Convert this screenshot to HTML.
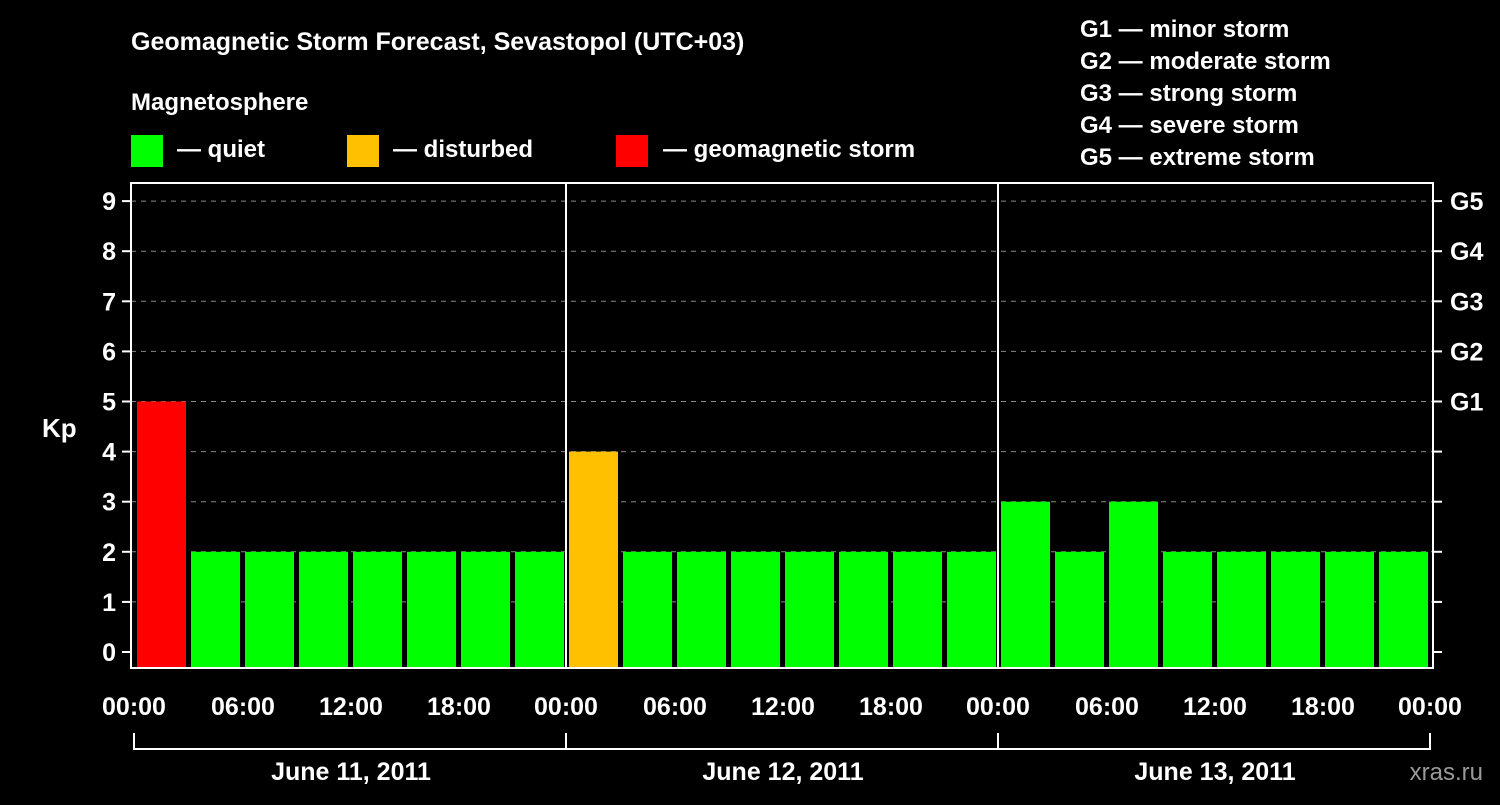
<!DOCTYPE html>
<html><head><meta charset="utf-8"><style>
body{margin:0;background:#000;width:1500px;height:800px;overflow:hidden}
svg text{font-family:"Liberation Sans",sans-serif;font-weight:bold;fill:#fff}
</style></head><body>
<svg id="c" width="1500" height="800">
<text x="131" y="50" font-size="25">Geomagnetic Storm Forecast, Sevastopol (UTC+03)</text>
<text x="131" y="110" font-size="24">Magnetosphere</text>
<rect x="131" y="135" width="32" height="32" fill="#00ff00"/>
<text x="177" y="157" font-size="24">— quiet</text>
<rect x="347" y="135" width="32" height="32" fill="#ffc000"/>
<text x="393" y="157" font-size="24">— disturbed</text>
<rect x="616" y="135" width="32" height="32" fill="#ff0000"/>
<text x="663" y="157" font-size="24">— geomagnetic storm</text>
<g font-size="24">
<text x="1080" y="37">G1 — minor storm</text>
<text x="1080" y="69">G2 — moderate storm</text>
<text x="1080" y="101">G3 — strong storm</text>
<text x="1080" y="133">G4 — severe storm</text>
<text x="1080" y="165">G5 — extreme storm</text>
</g>
<text x="42" y="437" font-size="26">Kp</text>
<text x="1483" y="780" font-size="24" text-anchor="end" fill="#888" style="fill:#9a9a9a;font-weight:normal">xras.ru</text>
<g id="grid"></g><g id="bars"></g><g id="axes"></g>
</svg>
<script>
const values=[5,2,2,2,2,2,2,2,4,2,2,2,2,2,2,2,3,2,3,2,2,2,2,2];
const yTicks=[0,1,2,3,4,5,6,7,8,9];
const gLabels=["G1","G2","G3","G4","G5"];
const xLabels=["00:00","06:00","12:00","18:00","00:00","06:00","12:00","18:00","00:00","06:00","12:00","18:00","00:00"];
const days=["June 11, 2011","June 12, 2011","June 13, 2011"];
const NS="http://www.w3.org/2000/svg";
const L=131,R=1433,T=183,B=668,X0=135,STEP=54;
const y=v=>652-50.1*v;
const x=i=>X0+STEP*i;
function mk(tag,at,parent){const e=document.createElementNS(NS,tag);for(const k in at)e.setAttribute(k,at[k]);parent.appendChild(e);return e;}
const grid=document.getElementById('grid'),bars=document.getElementById('bars'),axes=document.getElementById('axes');
yTicks.forEach(v=>{
 if(v>0){const g=mk('line',{x1:L,x2:R,y1:y(v),y2:y(v),stroke:'#888','stroke-dasharray':'5,5','stroke-width':1},grid);
 
 }
 const t=mk('line',{x1:122,x2:L,y1:y(v),y2:y(v),stroke:'#fff','stroke-width':2},axes);
 
 
 const r=mk('line',{x1:R,x2:1442,y1:y(v),y2:y(v),stroke:'#fff','stroke-width':2},axes);
 
 
 const tx=mk('text',{x:116,y:y(v)+9,'font-size':25,'text-anchor':'end'},axes);tx.textContent=v;
 
 
});
gLabels.forEach((g,i)=>{const tx=mk('text',{x:1450,y:y(5+i)+9,'font-size':25},axes);tx.textContent=g;
 
 });
values.forEach((v,i)=>{
 const col=v>=5?'#ff0000':v>=4?'#ffc000':'#00ff00';
 const b=mk('rect',{x:x(i)+2,y:y(v),width:49,height:B-y(v),fill:col},bars);
 
 
});
const frame=mk('rect',{x:L,y:T,width:R-L,height:B-T,fill:'none',stroke:'#fff','stroke-width':2},axes);


[1,2].forEach(d=>{const l=mk('line',{x1:x(8*d)-1,x2:x(8*d)-1,y1:T,y2:B,stroke:'#fff','stroke-width':2},axes);
 
 });
xLabels.forEach((s,i)=>{const xi=x(2*i)-(i%4==0?1:0);
 const t=mk('text',{x:xi,y:715,'font-size':25,'text-anchor':'middle'},axes);t.textContent=s;
 
 
 if(i%4==0){const l=mk('line',{x1:xi,x2:xi,y1:733,y2:750,stroke:'#fff','stroke-width':2},axes);
 
 }
});
const br=mk('line',{x1:x(0)-1,x2:x(24),y1:749,y2:749,stroke:'#fff','stroke-width':2},axes);


days.forEach((d,i)=>{const t=mk('text',{x:x(8*i+4),y:780,'font-size':25,'text-anchor':'middle'},axes);t.textContent=d;
 
 });
</script>
</body></html>
